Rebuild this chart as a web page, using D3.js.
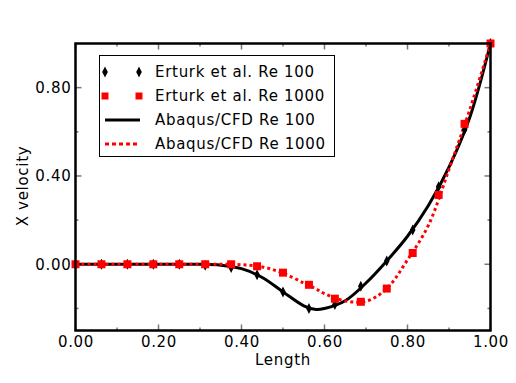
<!DOCTYPE html>
<html><head><meta charset="utf-8">
<script src="https://cdn.jsdelivr.net/npm/d3@7"></script>
<style>body{margin:0;background:#fff}svg{display:block}text{font-family:"DejaVu Sans",sans-serif;font-size:15px;letter-spacing:0.7px;fill:#000}</style>
</head><body><svg id="c" width="516" height="383"></svg>
<script>
const erturkX = [0,0.0625,0.125,0.1875,0.25,0.3125,0.375,0.4375,0.5,0.5625,0.625,0.6875,0.75,0.8125,0.875,0.9375,1.0];
const erturkRe100 = [0,0,0,0,0,-0.004,-0.015,-0.047,-0.126,-0.2,-0.182,-0.1,0.015,0.155,0.351,0.609,1.0];
const erturkRe1000 = [0,0,0,0,0,0,0,-0.009,-0.038,-0.093,-0.156,-0.17,-0.11,0.051,0.314,0.636,1.0];
const abaqusX = [0,0.05,0.1,0.15,0.2,0.25,0.3,0.35,0.4,0.45,0.5,0.55,0.58,0.6,0.65,0.7,0.75,0.8,0.85,0.9,0.95,1.0];
const abaqusRe100 = [0,0,0,0,0,0,0,-0.004,-0.02,-0.06,-0.125,-0.188,-0.205,-0.2,-0.165,-0.085,0.015,0.127,0.265,0.44,0.665,1.0];
const abaqusRe1000 = [0,0,0,0,0,0,0,0,-0.002,-0.012,-0.04,-0.085,-0.112,-0.133,-0.166,-0.168,-0.11,0.02,0.175,0.43,0.7,1.0];
const xTicks = [0,0.2,0.4,0.6,0.8,1.0];
const xMinor = [0.1,0.3,0.5,0.7,0.9];
const yTicks = [0,0.4,0.8];
const yMinor = [-0.2,0.2,0.6];
const legendLabels = ["Erturk et al. Re 100","Erturk et al. Re 1000","Abaqus/CFD Re 100","Abaqus/CFD Re 1000"];

const svg = d3.select("#c");
const L=75.5,R=490.5,T=43.5,B=330.5;
const x = d3.scaleLinear().domain([0,1]).range([L,R]);
const y = d3.scaleLinear().domain([-0.3,1]).range([B,T]);

// ticks (inward, all sides)
const tk = svg.append("g").attr("stroke","#777").attr("stroke-width",1.5);
function ticks(vals,len){
  vals.forEach(v=>{
    tk.append("line").attr("x1",x(v)).attr("x2",x(v)).attr("y1",B).attr("y2",B-len);
    tk.append("line").attr("x1",x(v)).attr("x2",x(v)).attr("y1",T).attr("y2",T+len);
  });
}
function yticks(vals,len){
  vals.forEach(v=>{
    tk.append("line").attr("y1",y(v)).attr("y2",y(v)).attr("x1",L).attr("x2",L+len);
    tk.append("line").attr("y1",y(v)).attr("y2",y(v)).attr("x1",R).attr("x2",R-len);
  });
}
ticks(xTicks,6); ticks(xMinor,3); yticks(yTicks,6); yticks(yMinor,3);

// axis labels via d3 axis (tick labels only)
const fmt = d3.format(".2f");
const xa = svg.append("g").attr("transform",`translate(0,${B})`).call(d3.axisBottom(x).tickValues(xTicks).tickFormat(fmt).tickSize(0).tickPadding(6));
const ya = svg.append("g").attr("transform",`translate(${L},0)`).call(d3.axisLeft(y).tickValues(yTicks).tickFormat(fmt).tickSize(0).tickPadding(4));
[xa,ya].forEach(a=>{a.select(".domain").remove();a.selectAll("text").attr("font-family","DejaVu Sans").attr("font-size",15).attr("fill","#000");});

svg.append("text").attr("x",(L+R)/2).attr("y",365).attr("text-anchor","middle").text("Length");
svg.append("text").attr("transform","translate(28,186) rotate(-90)").attr("text-anchor","middle").text("X velocity");

// lines
const line = d3.line().x(d=>x(d[0])).y(d=>y(d[1])).curve(d3.curveCatmullRom);
const plot = svg.append("g");
plot.append("path").datum(abaqusX.map((v,i)=>[v,abaqusRe100[i]])).attr("d",line)
  .attr("fill","none").attr("stroke","#000").attr("stroke-width",3);
plot.append("path").datum(abaqusX.map((v,i)=>[v,abaqusRe1000[i]])).attr("d",line)
  .attr("fill","none").attr("stroke","#f00").attr("stroke-width",3).attr("stroke-dasharray","3,3");

const diamond = "M0,-5.5L2.8,0L0,5.5L-2.8,0Z";
plot.selectAll(".d").data(erturkX.map((v,i)=>[v,erturkRe100[i]])).join("path")
  .attr("d",diamond).attr("transform",d=>`translate(${x(d[0])},${y(d[1])})`).attr("fill","#000");
plot.selectAll(".s").data(erturkX.map((v,i)=>[v,erturkRe1000[i]])).join("rect")
  .attr("x",d=>x(d[0])-4).attr("y",d=>y(d[1])-4).attr("width",8).attr("height",8).attr("fill","#f00");

// frame
svg.append("rect").attr("x",L).attr("y",T).attr("width",R-L).attr("height",B-T)
  .attr("fill","none").attr("stroke","#000").attr("stroke-width",2.5);

// legend
const lg = svg.append("g");
lg.append("rect").attr("x",99.5).attr("y",55.5).attr("width",235).attr("height",101)
  .attr("fill","#fff").attr("stroke","#000").attr("stroke-width",1);
const rows=[72,96,120,144];
[105,139].forEach(cx=>{
  lg.append("path").attr("d",diamond).attr("transform",`translate(${cx},${rows[0]})`).attr("fill","#000");
  lg.append("rect").attr("x",cx-3.5).attr("y",rows[1]-3.5).attr("width",7).attr("height",7).attr("fill","#f00");
});
lg.append("line").attr("x1",105).attr("x2",140).attr("y1",rows[2]).attr("y2",rows[2]).attr("stroke","#000").attr("stroke-width",3);
lg.append("line").attr("x1",105).attr("x2",140).attr("y1",rows[3]).attr("y2",rows[3]).attr("stroke","#f00").attr("stroke-width",3).attr("stroke-dasharray","4,3");
legendLabels.forEach((t,i)=>{
  lg.append("text").attr("x",155).attr("y",rows[i]).attr("dy","0.36em").text(t);
});
</script></body></html>
